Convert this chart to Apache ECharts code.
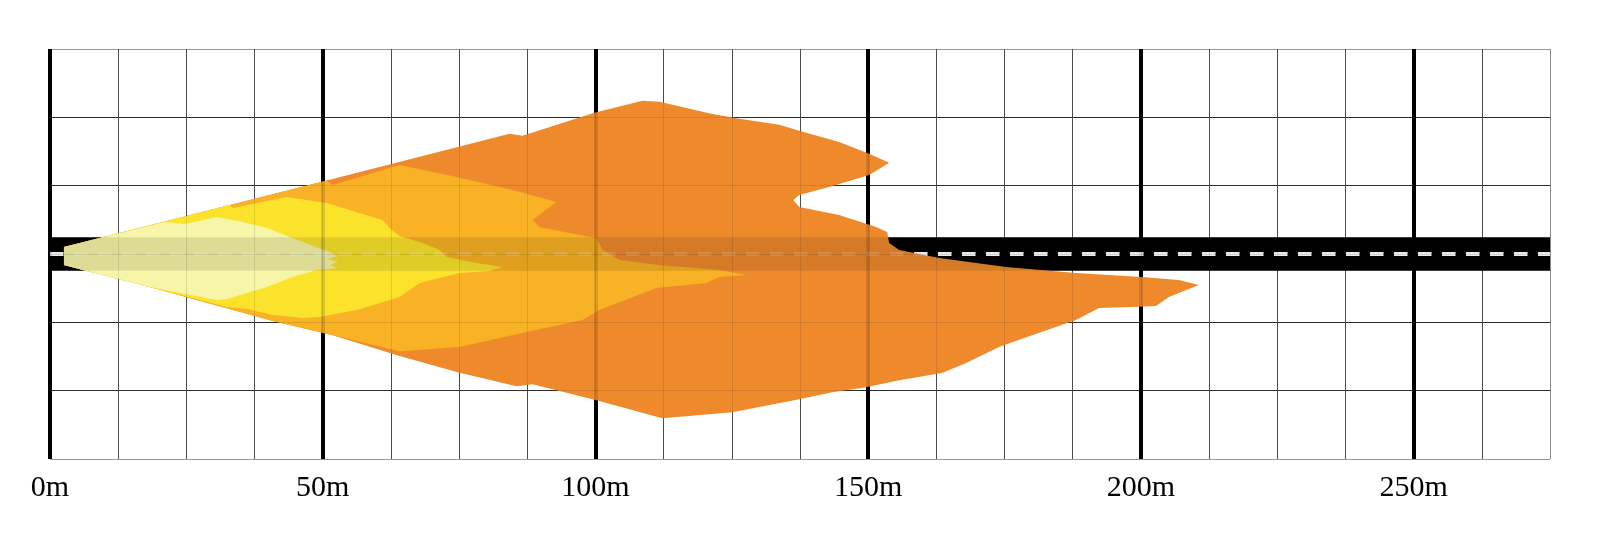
<!DOCTYPE html>
<html>
<head>
<meta charset="utf-8">
<script src="https://cdn.jsdelivr.net/npm/echarts@6/dist/echarts.min.js"></script>
<style>
html,body{margin:0;padding:0;background:#ffffff;}
#chart{width:1600px;height:537px;}
</style>
</head>
<body>
<div id="chart"></div>
<script>
// ---- axis extents and ticks (metres) ----
const xMin = 0, xMax = 275;
const yMin = -37.5, yMax = 37.5;
const minorStep = 12.5;
const majorStep = 50;
const distanceLabels = ['0m', '50m', '100m', '150m', '200m', '250m'];

// ---- road (lateral offsets, metres) ----
const roadEdges = [-3.05, 3.05];
const laneCenter = 0;

// ---- beam zones: outline points [distance m, lateral m] ----
const zoneOrange = [
  [2.56, 1.28], [50.73, 13.46], [84.25, 21.98], [86.63, 21.61], [99.82, 25.82],
  [108.61, 28.02], [111.72, 27.84], [121.25, 25.64], [126.37, 24.73], [133.70, 23.63],
  [137.36, 22.53], [144.69, 20.51], [150.18, 18.32], [153.85, 16.67], [150.18, 14.47],
  [142.86, 12.27], [137.36, 10.81], [136.26, 9.89], [137.36, 8.61], [144.69, 7.14],
  [151.47, 4.95], [153.48, 4.03], [153.85, 2.01], [155.68, 0.73], [163.00, -0.73],
  [175.27, -2.38], [188.10, -3.48], [200.18, -4.21], [206.96, -4.76], [210.62, -5.68],
  [205.13, -7.88], [202.75, -9.52], [198.35, -9.71], [192.31, -9.89], [188.10, -12.09],
  [180.04, -14.84], [173.99, -17.03], [167.95, -19.96], [163.55, -21.79], [155.68, -23.08],
  [149.63, -24.36], [143.41, -25.27], [137.36, -26.56], [125.09, -28.94], [112.27, -30.04],
  [100.18, -26.74], [88.46, -23.81], [85.53, -24.18], [74.73, -21.61], [64.10, -18.68],
  [51.83, -14.84], [40.84, -12.27], [18.32, -6.04], [6.04, -2.93], [2.56, -2.01]
];
const zoneAmber = [
  [2.56, 1.28], [50.73, 13.46], [51.83, 12.64], [64.10, 16.30], [74.54, 14.10],
  [84.80, 11.72], [92.86, 9.52], [88.46, 6.23], [89.74, 4.95], [97.07, 3.48],
  [100.18, 2.93], [101.28, 0.73], [104.40, -1.10], [111.72, -2.01], [122.71, -2.93],
  [127.66, -3.85], [122.71, -4.21], [120.33, -5.31], [111.17, -6.23], [100.73, -10.26],
  [97.62, -12.09], [87.36, -14.29], [75.09, -17.03], [64.10, -17.77], [51.83, -14.84],
  [40.84, -12.27], [18.32, -6.04], [6.04, -2.93], [2.56, -2.01]
];
const zoneYellow = [
  [2.56, 1.28], [32.97, 8.97], [33.52, 8.42], [43.41, 10.44], [50.73, 9.34],
  [60.99, 6.23], [62.27, 4.76], [64.10, 3.30], [68.31, 2.01], [71.43, 0.73],
  [72.71, -0.55], [78.21, -1.65], [82.97, -2.38], [80.59, -3.11], [75.09, -3.48],
  [67.77, -5.31], [64.10, -7.88], [56.23, -10.26], [49.45, -11.54], [46.34, -11.72],
  [40.84, -11.17], [36.08, -10.07], [32.42, -9.71], [18.32, -6.04], [6.04, -2.93],
  [2.56, -2.01]
];
const zonePale = [
  [2.56, 1.28], [21.06, 5.86], [24.73, 5.49], [30.59, 6.78], [35.35, 5.86],
  [39.74, 4.76], [43.96, 3.11], [51.28, 0.37], [52.75, -0.37], [50.92, -0.92],
  [52.75, -1.47], [51.28, -2.01], [52.75, -2.56], [48.90, -2.93], [44.51, -4.21],
  [39.74, -6.04], [32.42, -8.24], [30.59, -8.42], [21.98, -6.78], [18.32, -6.04],
  [6.04, -2.93], [2.56, -2.01]
];

// ---- rendering ----
const chart = echarts.init(document.getElementById('chart'), null, {renderer: 'canvas'});

function zoneSeries(name, pts, color, z) {
  return {
    type: 'custom', name: name, z: z, silent: true, animation: false,
    xAxisIndex: 0, yAxisIndex: 0,
    data: pts, encode: {x: 0, y: 1},
    renderItem: function (params, api) {
      if (params.dataIndex !== 0) return null;
      return {
        type: 'polygon',
        shape: {points: pts.map(function (p) { return api.coord(p); })},
        style: {fill: color}
      };
    }
  };
}

function roadSeries(name, fillCol, dashCol, z) {
  const pts = [[xMin, roadEdges[1]], [xMax, roadEdges[0]]];
  return {
    type: 'custom', name: name, z: z, silent: true, animation: false,
    xAxisIndex: 0, yAxisIndex: 0,
    data: pts, encode: {x: 0, y: 1},
    renderItem: function (params, api) {
      if (params.dataIndex !== 0) return null;
      const a = api.coord([xMin, roadEdges[1]]);
      const b = api.coord([xMax, roadEdges[0]]);
      const c0 = api.coord([xMin, laneCenter]);
      const c1 = api.coord([xMax, laneCenter]);
      return {
        type: 'group',
        children: [
          {type: 'rect', shape: {x: a[0], y: a[1], width: b[0] - a[0], height: b[1] - a[1]},
           style: {fill: fillCol}},
          {type: 'line', shape: {x1: c0[0], y1: c0[1], x2: c1[0], y2: c1[1]},
           style: {stroke: dashCol, lineWidth: 4, lineDash: [13.5, 10.5], fill: null}}
        ]
      };
    }
  };
}

const nMinor = Math.round((xMax - xMin) / minorStep) + 1;
const minorColors = [];
for (let i = 0; i < nMinor; i++) minorColors.push(i === nMinor - 1 ? '#999999' : '#555555');
const minorOverlay = [];
for (let i = 0; i < nMinor; i++) minorOverlay.push('rgba(0,0,0,0.10)');
const majorColors = distanceLabels.map(function () { return '#000000'; }).concat(['rgba(0,0,0,0)']);
const majorOverlay = distanceLabels.map(function () { return 'rgba(0,0,0,0.12)'; }).concat(['rgba(0,0,0,0)']);
const nRows = Math.round((yMax - yMin) / minorStep) + 1;
const rowColors = [];
for (let i = 0; i < nRows; i++) rowColors.push((i === 0 || i === nRows - 1) ? '#9a9a9a' : '#333333');
const rowOverlay = [];
for (let i = 0; i < nRows; i++) rowOverlay.push((i === 0 || i === nRows - 1) ? 'rgba(0,0,0,0)' : 'rgba(0,0,0,0.10)');

function xAx(interval, colors, width, z, labels) {
  return {
    type: 'value', min: xMin, max: xMax, interval: interval, position: 'bottom', z: z,
    axisLine: {show: false}, axisTick: {show: false},
    axisLabel: labels ? {
      show: true, showMaxLabel: false, margin: 14,
      fontFamily: 'Liberation Serif', fontSize: 30, color: '#000',
      formatter: function (v) {
        const i = Math.round(v / majorStep);
        return (Math.abs(v - i * majorStep) < 1e-6 && distanceLabels[i]) ? distanceLabels[i] : '';
      }
    } : {show: false},
    splitLine: {show: true, lineStyle: {color: colors, width: width}}
  };
}
function yAx(colors, z) {
  return {
    type: 'value', min: yMin, max: yMax, interval: minorStep, position: 'left', z: z,
    axisLine: {show: false}, axisTick: {show: false}, axisLabel: {show: false},
    splitLine: {show: true, lineStyle: {color: colors, width: 1}}
  };
}

chart.setOption({
  animation: false,
  backgroundColor: '#ffffff',
  grid: {left: 50, right: 50, top: 49, bottom: 78, containLabel: false},
  xAxis: [
    xAx(minorStep, minorColors, 1, 0, false),
    xAx(majorStep, majorColors, 4, 0, true),
    xAx(minorStep, minorOverlay, 1, 6, false),
    xAx(majorStep, majorOverlay, 4, 6, false)
  ],
  yAxis: [
    yAx(rowColors, 0),
    yAx(rowOverlay, 6)
  ],
  series: [
    roadSeries('road', '#000000', '#ffffff', 1),
    zoneSeries('outer', zoneOrange, '#EE8A2C', 2),
    zoneSeries('amber', zoneAmber, '#F9B125', 3),
    zoneSeries('yellow', zoneYellow, '#FBE32C', 4),
    zoneSeries('pale', zonePale, '#F6F5A8', 5),
    roadSeries('roadOverlay', 'rgba(0,0,0,0.10)', 'rgba(255,255,255,0.12)', 6)
  ]
});
</script>
</body>
</html>
